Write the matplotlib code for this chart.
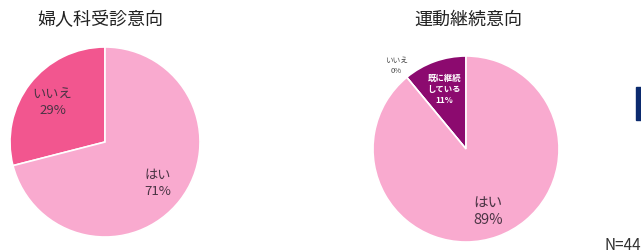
import matplotlib.pyplot as plt
import numpy as np

plt.rcParams['font.family'] = ['Noto Sans CJK JP', 'DejaVu Sans']

# left pie
title1 = "婦人科受診意向"
labels1 = ["いいえ", "はい"]
values1 = [29, 71]
colors1 = ["#f2568f", "#f9aacf"]

# right pie
title2 = "運動継続意向"
labels2 = ["既に継続\nしている", "いいえ", "はい"]
values2 = [11, 0, 89]
colors2 = ["#8c0a6f", "#f9aacf", "#f9aacf"]

n_text = "N=44"


def draw_pie(ax, values, colors):
    wedges, _ = ax.pie(values, colors=colors, startangle=90, counterclock=True,
                       wedgeprops=dict(edgecolor="white", linewidth=1.2))
    ax.set_xlim(-1, 1)
    ax.set_ylim(-1, 1)
    ax.set_aspect("equal")
    ax.axis("off")
    return wedges


def put_label(ax, wedge, text, r, **kw):
    a = np.deg2rad((wedge.theta1 + wedge.theta2) / 2)
    ax.text(r * np.cos(a), r * np.sin(a), text, ha="center", va="center", **kw)


fig = plt.figure(figsize=(6.41, 2.53), dpi=100)

ax1 = fig.add_axes([10 / 641, 15 / 253, 190 / 641, 190 / 253])
w1 = draw_pie(ax1, values1, colors1)
for w, lab, v in zip(w1, labels1, values1):
    put_label(ax1, w, f"{lab}\n{v}%", 0.7, fontsize=9.5, color="#4a3444", linespacing=1.3)

ax2 = fig.add_axes([373 / 641, 10 / 253, 186 / 641, 186 / 253])
w2 = draw_pie(ax2, values2, colors2)
put_label(ax2, w2[0], f"{labels2[0]}\n{values2[0]}%", 0.69, fontsize=6,
          color="white", fontweight="bold", linespacing=1.3)
put_label(ax2, w2[1], f"{labels2[1]}\n{values2[1]}%", 1.17, fontsize=5.5,
          color="#4a4a4a", linespacing=1.4)
put_label(ax2, w2[2], f"{labels2[2]}\n{values2[2]}%", 0.7, fontsize=10.5,
          color="#4a3444", linespacing=1.3)

fig.text(100 / 641, 1 - 20 / 253, title1, ha="center", va="center", fontsize=13, color="#222222")
fig.text(468 / 641, 1 - 20 / 253, title2, ha="center", va="center", fontsize=13, color="#222222")

# dark blue marker at right edge
fig.patches.append(plt.Rectangle((636 / 641, 1 - 121 / 253), 6 / 641, 33 / 253,
                                 transform=fig.transFigure, color="#0b2a6e"))

fig.text(641 / 641, 1 - 246 / 253, n_text, ha="right", va="center", fontsize=11, color="#333333")

fig.savefig("out.png", dpi=100)
